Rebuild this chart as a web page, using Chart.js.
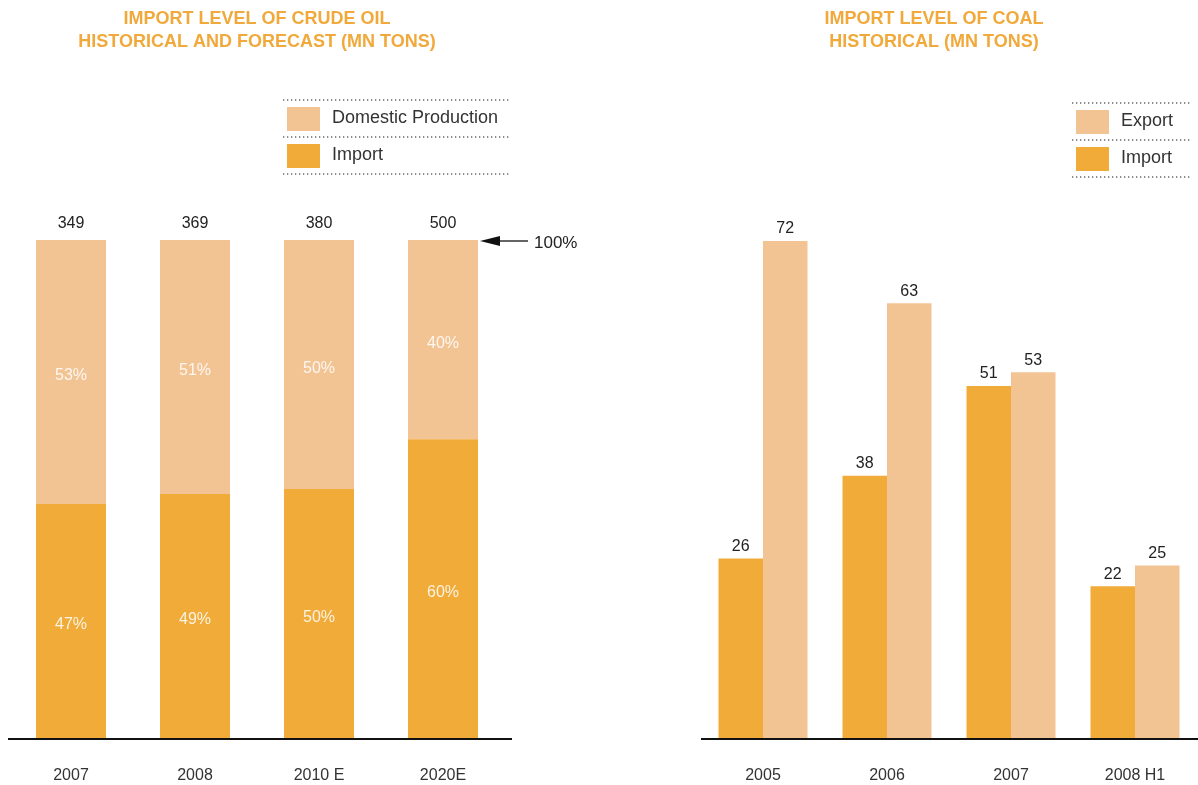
<!DOCTYPE html>
<html>
<head>
<meta charset="utf-8">
<script src="https://cdn.jsdelivr.net/npm/chart.js@4"></script>
<style>
  body { margin: 0; background: #fff; }
  .box { position: absolute; top: 0; }
</style>
</head>
<body>
<div class="box" style="left:0"><canvas id="oilChart" width="600" height="785"></canvas></div>
<div class="box" style="left:600px"><canvas id="coalChart" width="598" height="785"></canvas></div>
<script>
// crude oil (left)
const oilYears = ['2007', '2008', '2010 E', '2020E'];
const oilTotals = [349, 369, 380, 500];
const oilImportShare = [47, 49, 50, 60];
const oilDomesticShare = [53, 51, 50, 40];

// coal (right)
const coalYears = ['2005', '2006', '2007', '2008 H1'];
const coalImport = [26, 38, 51, 22];
const coalExport = [72, 63, 53, 25];

const IMPORT_COLOR = '#F0AB38';
const LIGHT_COLOR = '#F3C493';
const TITLE_COLOR = '#F0A93A';
const FONT = '"Liberation Sans", Arial, sans-serif';

function dotted(ctx, x1, x2, y) {
    ctx.save();
    ctx.strokeStyle = '#666';
    ctx.lineWidth = 1.3;
    ctx.setLineDash([1.3, 2.7]);
    ctx.beginPath();
    ctx.moveTo(x1, y);
    ctx.lineTo(x2, y);
    ctx.stroke();
    ctx.restore();
}

// draws titles, legend, axis line and all text labels
function extrasPlugin(cfg) {
    return {
        id: 'extras',
        afterDatasetsDraw(chart) {
            const ctx = chart.ctx;
            const xs = chart.scales.x;
            const area = chart.chartArea;
            ctx.save();

            // title
            ctx.fillStyle = TITLE_COLOR;
            ctx.font = 'bold 18px ' + FONT;
            ctx.textAlign = 'center';
            ctx.textBaseline = 'middle';
            cfg.title.forEach((t, i) => ctx.fillText(t, cfg.titleX, 19 + i * 23));

            // axis line
            ctx.strokeStyle = '#111';
            ctx.lineWidth = 2;
            ctx.beginPath();
            ctx.moveTo(cfg.axisFrom, area.bottom + 1);
            ctx.lineTo(cfg.axisTo, area.bottom + 1);
            ctx.stroke();

            // category labels
            ctx.fillStyle = '#333';
            ctx.font = '16px ' + FONT;
            chart.data.labels.forEach((l, i) => {
                ctx.fillText(l, xs.getPixelForValue(i), area.bottom + 38);
            });

            // legend
            const lg = cfg.legend;
            dotted(ctx, lg.x1, lg.x2, lg.y);
            lg.items.forEach((it, i) => {
                const top = lg.y + i * 37;
                ctx.fillStyle = it.color;
                ctx.fillRect(lg.x1 + 4, top + 7, 33, 24);
                ctx.fillStyle = '#333';
                ctx.textAlign = 'left';
                ctx.font = '18px ' + FONT;
                ctx.fillText(it.text, lg.x1 + 49, top + 18);
                dotted(ctx, lg.x1, lg.x2, top + 37);
            });

            if (cfg.draw) cfg.draw(chart, ctx);
            ctx.restore();
        }
    };
}

new Chart(document.getElementById('oilChart'), {
    type: 'bar',
    data: {
        labels: oilYears,
        datasets: [{
            label: 'Import',
            data: oilImportShare,
            backgroundColor: IMPORT_COLOR
        }, {
            label: 'Domestic Production',
            data: oilDomesticShare,
            backgroundColor: LIGHT_COLOR
        }]
    },
    options: {
        responsive: false,
        devicePixelRatio: 1,
        animation: false,
        layout: { padding: { left: 9, right: 95, top: 240, bottom: 47 } },
        datasets: { bar: { categoryPercentage: 1, barPercentage: 70 / 124 } },
        plugins: { legend: { display: false }, tooltip: { enabled: false } },
        scales: {
            x: { stacked: true, display: false },
            y: { stacked: true, display: false, min: 0, max: 100 }
        }
    },
    plugins: [extrasPlugin({
        title: ['IMPORT LEVEL OF CRUDE OIL', 'HISTORICAL AND FORECAST (MN TONS)'],
        titleX: 257,
        axisFrom: 8,
        axisTo: 512,
        legend: {
            x1: 283, x2: 510, y: 100,
            items: [
                { text: 'Domestic Production', color: LIGHT_COLOR },
                { text: 'Import', color: IMPORT_COLOR }
            ]
        },
        draw(chart, ctx) {
            const xs = chart.scales.x;
            const ys = chart.scales.y;
            ctx.textAlign = 'center';
            ctx.textBaseline = 'middle';
            ctx.font = '16px ' + FONT;
            oilYears.forEach((_, i) => {
                const x = xs.getPixelForValue(i);
                const imp = oilImportShare[i];
                const dom = oilDomesticShare[i];
                ctx.fillStyle = 'rgba(255,255,255,0.85)';
                ctx.fillText(imp + '%', x, ys.getPixelForValue(imp / 2) + 4);
                ctx.fillText(dom + '%', x, ys.getPixelForValue(imp + dom / 2) + 4);
                ctx.fillStyle = '#222';
                ctx.fillText(oilTotals[i], x, ys.getPixelForValue(100) - 16);
            });
            // 100% arrow
            const last = chart.getDatasetMeta(1).data[oilYears.length - 1];
            const ax = last.x + last.width / 2 + 2;
            const ay = ys.getPixelForValue(100) + 1;
            ctx.fillStyle = '#111';
            ctx.strokeStyle = '#111';
            ctx.lineWidth = 1.3;
            ctx.beginPath();
            ctx.moveTo(ax + 18, ay);
            ctx.lineTo(ax + 48, ay);
            ctx.stroke();
            ctx.beginPath();
            ctx.moveTo(ax, ay);
            ctx.lineTo(ax + 20, ay - 5);
            ctx.lineTo(ax + 20, ay + 5);
            ctx.closePath();
            ctx.fill();
            ctx.textAlign = 'left';
            ctx.fillStyle = '#222';
            ctx.font = '17px ' + FONT;
            ctx.fillText('100%', ax + 54, ay + 2);
        }
    })]
});

new Chart(document.getElementById('coalChart'), {
    type: 'bar',
    data: {
        labels: coalYears,
        datasets: [{
            label: 'Import',
            data: coalImport,
            backgroundColor: IMPORT_COLOR
        }, {
            label: 'Export',
            data: coalExport,
            backgroundColor: LIGHT_COLOR
        }]
    },
    options: {
        responsive: false,
        devicePixelRatio: 1,
        animation: false,
        layout: { padding: { left: 101, right: 1, top: 241, bottom: 47 } },
        datasets: { bar: { categoryPercentage: 89 / 124, barPercentage: 1 } },
        plugins: { legend: { display: false }, tooltip: { enabled: false } },
        scales: {
            x: { display: false },
            y: { display: false, min: 0, max: 72 }
        }
    },
    plugins: [extrasPlugin({
        title: ['IMPORT LEVEL OF COAL', 'HISTORICAL (MN TONS)'],
        titleX: 334,
        axisFrom: 101,
        axisTo: 598,
        legend: {
            x1: 472, x2: 592, y: 103,
            items: [
                { text: 'Export', color: LIGHT_COLOR },
                { text: 'Import', color: IMPORT_COLOR }
            ]
        },
        draw(chart, ctx) {
            ctx.textAlign = 'center';
            ctx.textBaseline = 'middle';
            ctx.font = '16px ' + FONT;
            ctx.fillStyle = '#222';
            chart.data.datasets.forEach((ds, d) => {
                chart.getDatasetMeta(d).data.forEach((bar, i) => {
                    ctx.fillText(ds.data[i], bar.x, bar.y - 12);
                });
            });
        }
    })]
});
</script>
</body>
</html>
